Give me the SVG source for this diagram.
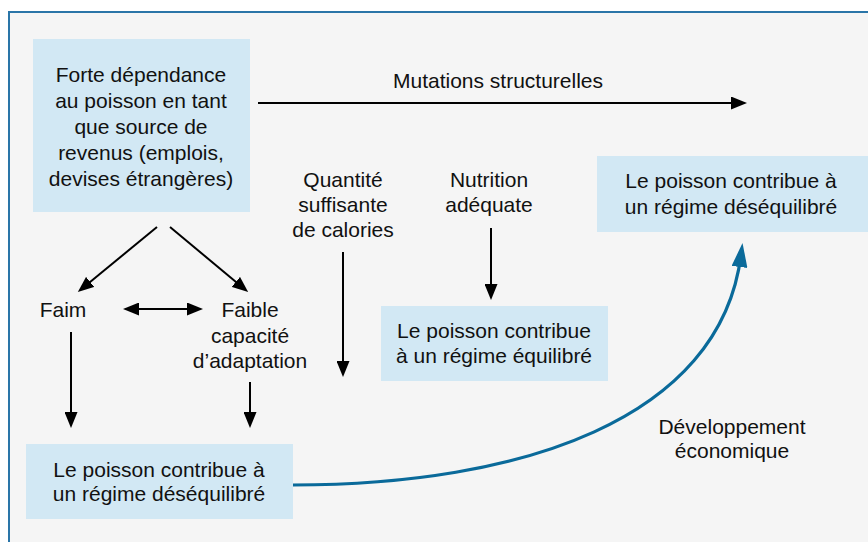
<svg xmlns="http://www.w3.org/2000/svg" width="868" height="542" viewBox="0 0 868 542">
<defs>
<style>
text{font-family:"Liberation Sans",Arial,sans-serif;font-size:21px;fill:#111;text-anchor:middle}
.box{fill:#d2e8f4}
.conn{stroke:#000;stroke-width:2;fill:none}
.dev{stroke:#0a6a9a;stroke-width:3.2;fill:none}
</style>
<marker id="ah" markerUnits="userSpaceOnUse" markerWidth="16" markerHeight="13" refX="8" refY="6.5" orient="auto-start-reverse" viewBox="0 0 16 13">
<path d="M0,0 L16,6.5 L0,13 z" fill="#000"/>
</marker>
<marker id="ahb" markerUnits="userSpaceOnUse" markerWidth="24" markerHeight="16" refX="12" refY="8" orient="auto" viewBox="0 0 24 16">
<path d="M0,0 L24,8 L0,16 z" fill="#0a6a9a"/>
</marker>
</defs>
<rect width="868" height="542" fill="#fff"/>
<rect x="9" y="12" width="900" height="600" fill="#f5f5f5" stroke="#2a75a8" stroke-width="2"/>

<g id="connectors">
<line class="conn" x1="258" y1="103" x2="739" y2="103" marker-end="url(#ah)"/>
<line class="conn" x1="157" y1="227" x2="84" y2="287" marker-end="url(#ah)"/>
<line class="conn" x1="170" y1="227" x2="242" y2="287" marker-end="url(#ah)"/>
<line class="conn" x1="131" y1="309" x2="195" y2="309" marker-start="url(#ah)" marker-end="url(#ah)"/>
<line class="conn" x1="71" y1="332" x2="71" y2="420" marker-end="url(#ah)"/>
<line class="conn" x1="250" y1="382" x2="250" y2="420" marker-end="url(#ah)"/>
<line class="conn" x1="343" y1="252" x2="343" y2="369" marker-end="url(#ah)"/>
<line class="conn" x1="491" y1="228" x2="491" y2="292" marker-end="url(#ah)"/>
<path class="dev" d="M293,485 C520,485 720,420 741,255" marker-end="url(#ahb)"/>
</g>

<g id="n-dependance">
<rect class="box" x="33" y="39" width="217" height="173"/>
<text x="141" y="82">Forte dépendance</text>
<text x="141" y="108">au poisson en tant</text>
<text x="141" y="134">que source de</text>
<text x="141" y="160">revenus (emplois,</text>
<text x="141" y="186">devises étrangères)</text>
</g>

<g id="l-mutations">
<text x="498" y="88">Mutations structurelles</text>
</g>

<g id="n-desequilibre-haut">
<rect class="box" x="597" y="156" width="271" height="76"/>
<text x="731" y="188">Le poisson contribue à</text>
<text x="731" y="214">un régime déséquilibré</text>
</g>

<g id="n-quantite">
<text x="343" y="187">Quantité</text>
<text x="343" y="212">suffisante</text>
<text x="343" y="237">de calories</text>
</g>

<g id="n-nutrition">
<text x="489" y="187">Nutrition</text>
<text x="489" y="212">adéquate</text>
</g>

<g id="n-faim">
<text x="63" y="317">Faim</text>
</g>

<g id="n-faible">
<text x="250" y="317">Faible</text>
<text x="250" y="343">capacité</text>
<text x="250" y="368">d’adaptation</text>
</g>

<g id="n-equilibre">
<rect class="box" x="381" y="306" width="227" height="75"/>
<text x="494" y="338">Le poisson contribue</text>
<text x="494" y="363">à un régime équilibré</text>
</g>

<g id="n-desequilibre-bas">
<rect class="box" x="26" y="444" width="267" height="75"/>
<text x="159" y="477">Le poisson contribue à</text>
<text x="159" y="501">un régime déséquilibré</text>
</g>

<g id="l-developpement">
<text x="732" y="434">Développement</text>
<text x="732" y="458">économique</text>
</g>
</svg>
